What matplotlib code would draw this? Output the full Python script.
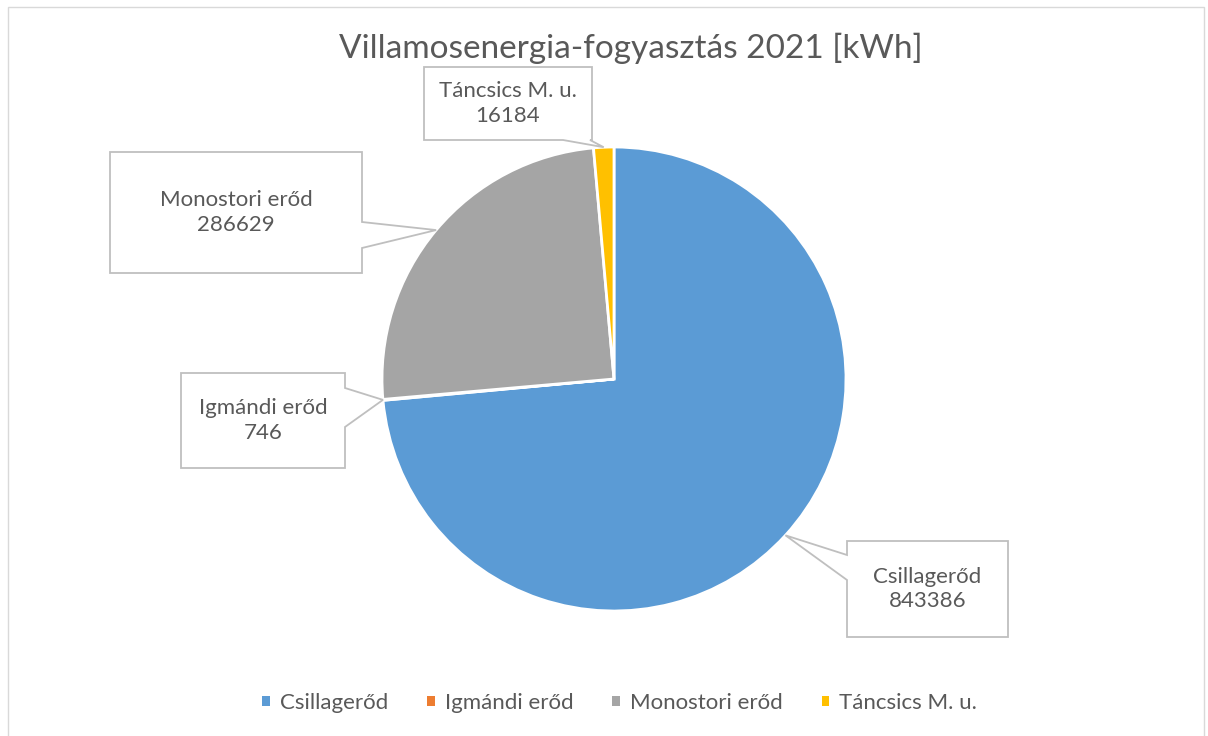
import numpy as np
import matplotlib.pyplot as plt
from matplotlib.patches import Polygon, Patch, Rectangle

W, H = 1208, 736
FONT = "Lato"
TXT = "#595959"
EDGE = "#BFBFBF"

labels = ["Csillagerőd", "Igmándi erőd", "Monostori erőd", "Táncsics M. u."]
values = [843386, 746, 286629, 16184]
colors = ["#5B9BD5", "#ED7D31", "#A5A5A5", "#FFC000"]

# callout boxes in pixel coords (left, top, right, bottom), side where the pointer leaves,
# and the pointer base along that side
boxes = {
    "Csillagerőd":    ((847, 541, 1008, 637), "left",   (555, 580)),
    "Igmándi erőd":   ((181, 373, 345, 468),  "right",  (388, 427)),
    "Monostori erőd": ((110, 152, 362, 273),  "right",  (222, 248)),
    "Táncsics M. u.": ((424, 67, 592, 140),   "bottom", (563, 590)),
}

CX, CY, R = 614, 379, 232

def py(y):
    return H - y

fig = plt.figure(figsize=(W / 100, H / 100), dpi=100)
ax = fig.add_axes([0, 0, 1, 1])

wedges, _ = ax.pie(values, colors=colors, startangle=90, counterclock=False,
                   center=(CX, py(CY)), radius=R,
                   wedgeprops=dict(edgecolor="white", linewidth=2))
ax.set_xlim(0, W)
ax.set_ylim(0, H)
ax.set_aspect("equal")
ax.axis("off")

for w, lab, val in zip(wedges, labels, values):
    mid = np.deg2rad((w.theta1 + w.theta2) / 2)
    tx, ty = CX + R * np.cos(mid), py(CY) + R * np.sin(mid)
    (l, t, r, b), side, (p0, p1) = boxes[lab]
    t, b = py(t), py(b)
    if side == "left":
        pts = [(l, t), (r, t), (r, b), (l, b), (l, py(p1)), (tx, ty), (l, py(p0))]
    elif side == "right":
        pts = [(l, t), (r, t), (r, py(p0)), (tx, ty), (r, py(p1)), (r, b), (l, b)]
    else:
        pts = [(l, t), (r, t), (r, b), (p1, b), (tx, ty), (p0, b), (l, b)]
    ax.add_patch(Polygon(pts, closed=True, facecolor="white", edgecolor=EDGE,
                         linewidth=1.3, zorder=3))
    ax.text((l + r) / 2, (t + b) / 2, f"{lab}\n{val}", ha="center", va="center",
            fontsize=16, color=TXT, family=FONT, linespacing=1.3, zorder=4)

ax.add_patch(Rectangle((8, -10), 1196, py(7) + 10, facecolor="none",
                       edgecolor="#D9D9D9", linewidth=1, clip_on=False))

ax.text(631, py(48), "Villamosenergia-fogyasztás 2021 [kWh]", ha="center", va="center",
        fontsize=24, color=TXT, family=FONT)

handles = [Patch(facecolor=c, edgecolor="none") for c in colors]
fig.legend(handles, labels, loc="center", bbox_to_anchor=(0.513, 1 - 703 / H), ncol=4,
           frameon=False, handlelength=0.35, handleheight=0.35, handletextpad=0.45,
           columnspacing=1.75, prop=dict(family=FONT, size=16), labelcolor=TXT)

fig.savefig("out.png", dpi=100, facecolor="white")
